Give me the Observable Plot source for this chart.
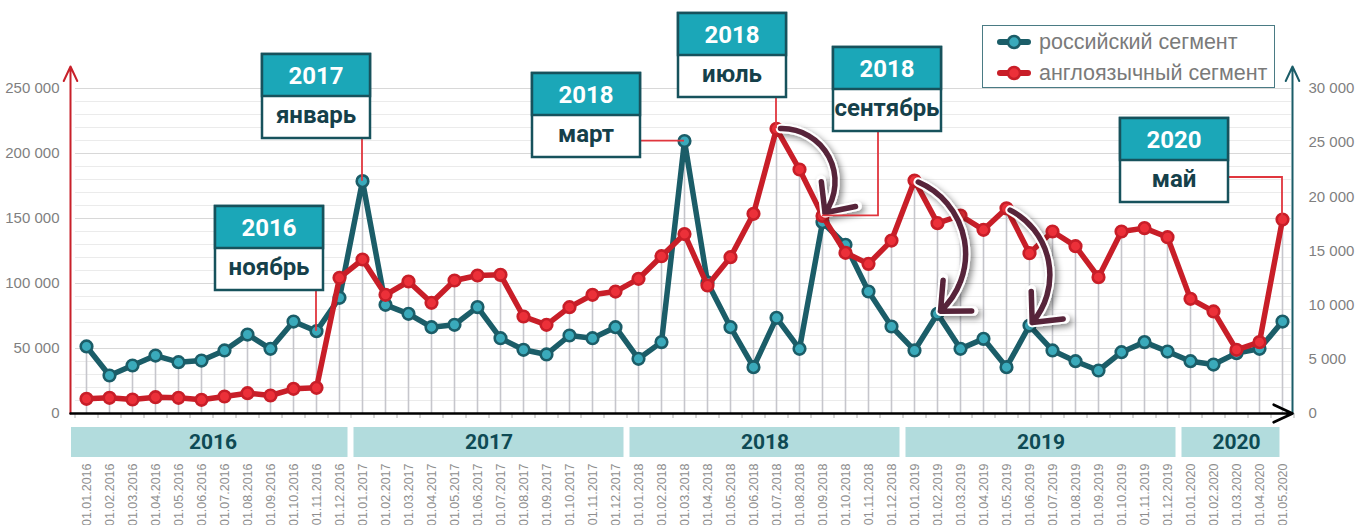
<!DOCTYPE html>
<html><head><meta charset="utf-8">
<script src="https://cdn.jsdelivr.net/npm/d3@7"></script>
<script src="https://cdn.jsdelivr.net/npm/@observablehq/plot@0.6"></script>
<style>
body{margin:0;background:#fff;}
#wrap{position:relative;width:1361px;height:525px;overflow:hidden;}
#legend{position:absolute;left:982px;top:25px;width:291px;height:61px;border:1.5px solid #4a7b84;background:#fff;font-family:"Liberation Sans",sans-serif;font-size:21.5px;color:#7a7a7a;}
#legend .it{position:absolute;left:14px;height:24px;display:flex;align-items:center;white-space:nowrap;}
#legend svg{margin-right:8px;}
</style></head>
<body><div id="wrap"><div id="legend"></div></div>
<script>
const dates = ["01.01.2016","01.02.2016","01.03.2016","01.04.2016","01.05.2016","01.06.2016","01.07.2016","01.08.2016","01.09.2016","01.10.2016","01.11.2016","01.12.2016",
"01.01.2017","01.02.2017","01.03.2017","01.04.2017","01.05.2017","01.06.2017","01.07.2017","01.08.2017","01.09.2017","01.10.2017","01.11.2017","01.12.2017",
"01.01.2018","01.02.2018","01.03.2018","01.04.2018","01.05.2018","01.06.2018","01.07.2018","01.08.2018","01.09.2018","01.10.2018","01.11.2018","01.12.2018",
"01.01.2019","01.02.2019","01.03.2019","01.04.2019","01.05.2019","01.06.2019","01.07.2019","01.08.2019","01.09.2019","01.10.2019","01.11.2019","01.12.2019",
"01.01.2020","01.02.2020","01.03.2020","01.04.2020","01.05.2020"];
// российский сегмент (right axis, 0–30 000)
const russian = [6190,3510,4430,5350,4740,4890,5820,7290,5970,8490,7600,10680,
21450,10030,9200,7970,8190,9820,6950,5880,5450,7200,6950,7970,
5050,6590,25150,12100,7970,4280,8830,5970,17660,15570,11260,8030,
5820,9200,5970,6890,4280,8120,5820,4830,3970,5660,6590,5720,
4830,4520,5570,5970,8490];
// англоязычный сегмент (left axis, 0–250 000)
const english = [11300,12050,10770,12560,12050,10510,13080,15640,13850,18970,19740,104360,
118460,91280,101540,85130,102300,106150,106650,74600,68200,81800,91300,93800,
103600,121000,138000,98460,120260,153600,219000,187700,152000,123600,115100,133000,
179200,146400,152300,141300,157800,123300,140000,128700,104900,140000,142600,135600,
88200,78500,49000,54900,149200];
const leftTicks = [0,50000,100000,150000,200000,250000];
const rightTicks = [0,5000,10000,15000,20000,25000,30000];
const years = ["2016","2017","2018","2019","2020"];
const yearFirst = [0,12,24,36,48];
const yearLast = [11,23,35,47,52];
const seriesNames = ["российский сегмент","англоязычный сегмент"];
const annotations = [
 {year:"2016", month:"ноябрь", i:10, s:"ru", left:215, top:206, link:"down"},
 {year:"2017", month:"январь", i:12, s:"ru", left:262, top:54, link:"down"},
 {year:"2018", month:"март", i:26, s:"ru", left:532, top:73, link:"right"},
 {year:"2018", month:"июль", i:30, s:"en", left:678, top:13, link:"down"},
 {year:"2018", month:"сентябрь", i:32, s:"en", left:833, top:47, link:"elbowDown", at:45},
 {year:"2020", month:"май", i:52, s:"en", left:1120, top:118, link:"elbowRight", at:59}
];
const curved = [{from:30, fs:"en", to:32, ts:"en", bend:68},{from:36, fs:"en", to:37, ts:"ru", bend:60},{from:40, fs:"en", to:41, ts:"ru", bend:55}];

const YMAX = 250000, RMAX = 30000, K = YMAX/RMAX;
const TEAL = "#1b5d68", TEAL_F = "#3aaabb", RED = "#c81e28", RED_F = "#ec3039";
const rows = dates.map((d,i)=>({i, date:d, ru:russian[i]*K, en:english[i]}));
const val = (i,s) => s==="ru" ? rows[i].ru : rows[i].en;
const PXH = 325; // plot height in px
const below = px => -px*YMAX/PXH;
const x0 = -16/23, x1 = 52 + 10/23;
const axisTop = 347*YMAX/PXH;
const grid = d3.range(10000, 250001, 10000);
const bounds = d3.range(-0.5, 53, 1);
const font = "'Liberation Sans', sans-serif";
const bandX1 = k => k===0 ? x0 - 2/23 : yearFirst[k]-0.5;
const bandX2 = k => k===years.length-1 ? yearLast[k] + 0.5 - 11/23 : yearLast[k]+0.5;

const curvedMarks = [];
for (const c of curved) {
  const o = {x1:"from", y1:d=>val(d.from,d.fs), x2:"to", y2:d=>val(d.to,d.ts), bend:c.bend, headAngle:85, insetStart:4, insetEnd:4};
  curvedMarks.push(Plot.arrow([c], {...o, stroke:"#ffffff", strokeWidth:9.5, headLength:5.2}));
  curvedMarks.push(Plot.arrow([c], {...o, stroke:"#57243a", strokeWidth:5.5, headLength:8.5}));
}

const plot = Plot.plot({
  width:1361, height:525, marginLeft:70, marginRight:69, marginTop:88, marginBottom:112,
  x:{domain:[x0,x1], axis:null}, y:{domain:[0,YMAX], axis:null},
  style:{overflow:"visible", background:"transparent", fontFamily:font},
  marks:[
    Plot.ruleY(grid, {y:d=>d, x1:-0.48, x2:x1-0.05, stroke:d=>d%50000===0?"#d8d8d8":"#ebebeb", strokeWidth:1.2}),
    Plot.ruleX(rows, {x:"i", y1:0, y2:d=>Math.max(d.ru,d.en), stroke:"#c6c6cc", strokeWidth:1.6}),
    Plot.ruleX(bounds, {x:d=>d, y1:0, y2:below(5), stroke:"#b0b0b0", strokeWidth:1}),
    Plot.line(rows, {x:"i", y:"ru", stroke:TEAL, strokeWidth:5.5, strokeLinejoin:"round"}),
    Plot.dot(rows, {x:"i", y:"ru", r:5.8, fill:TEAL_F, stroke:TEAL, strokeWidth:2.6}),
    Plot.line(rows, {x:"i", y:"en", stroke:RED, strokeWidth:5.5, strokeLinejoin:"round"}),
    Plot.dot(rows, {x:"i", y:"en", r:5.8, fill:RED_F, stroke:RED, strokeWidth:2.6}),
    // axes
    Plot.arrow([0], {x1:x0, y1:0, x2:x0, y2:axisTop, stroke:"#c8202a", strokeWidth:2, headLength:12, headAngle:50}),
    Plot.arrow([0], {x1:x1, y1:0, x2:x1, y2:axisTop, stroke:TEAL, strokeWidth:2, headLength:12, headAngle:50}),
    Plot.arrow([0], {x1:x0, y1:0, x2:x1, y2:0, stroke:"#000", strokeWidth:2.6, headLength:12, headAngle:50}),
    Plot.text(leftTicks, {x:x0, y:d=>d, text:d=>d===0?"0":d3.format(",")(d).replace(/,/g," "), textAnchor:"end", dx:-11, fontSize:15, fill:"#7f7f7f"}),
    Plot.text(rightTicks, {x:x1, y:d=>d*K, text:d=>d===0?"0":d3.format(",")(d).replace(/,/g," "), textAnchor:"start", dx:16, fontSize:15, fill:"#7f7f7f"}),
    // year bands
    Plot.rect(years, {x1:(d,k)=>bandX1(k), x2:(d,k)=>bandX2(k), y1:below(14), y2:below(44), insetLeft:3, insetRight:3, fill:"#b2dcdd"}),
    Plot.text(years, {x:(d,k)=>(yearFirst[k]+yearLast[k])/2, y:below(29), text:d=>d, fontSize:21, fontWeight:"bold", fill:"#0e4a54", fontFamily:"Roboto, sans-serif"}),
    Plot.text(rows, {x:"i", y:0, text:"date", rotate:-90, textAnchor:"end", dy:50, fontSize:12.5, fill:"#8e8e8e"}),
    ...curvedMarks
  ]
});
document.getElementById("wrap").prepend(plot);
const svg = d3.select(plot);
const sx = plot.scale("x"), sy = plot.scale("y");
// shadow for curved arrows
const defs = svg.append("defs");
const f = defs.append("filter").attr("id","sh").attr("x","-50%").attr("y","-50%").attr("width","200%").attr("height","200%");
f.append("feDropShadow").attr("dx",3).attr("dy",3).attr("stdDeviation",3).attr("flood-color","#000").attr("flood-opacity",0.45);
const arrowGroups = Array.from(plot.querySelectorAll('g[aria-label="arrow"]')).slice(3);
arrowGroups.forEach((g,k)=>{ if (k%2===0) g.setAttribute("filter","url(#sh)"); });

// annotations
const W=108, H=84, HH=42;
const ag = svg.append("g");
for (const a of annotations) {
  const px = sx.apply(a.i), py = sy.apply(val(a.i,a.s));
  let pts;
  if (a.link==="down") pts = [[px, a.top+H],[px, py]];
  else if (a.link==="right") pts = [[a.left+W, py],[px, py]];
  else if (a.link==="elbowDown") pts = [[a.left+a.at, a.top+H],[a.left+a.at, py],[px, py]];
  else pts = [[a.left+W, a.top+a.at],[px, a.top+a.at],[px, py]];
  ag.append("path").attr("d", d3.line()(pts)).attr("fill","none").attr("stroke","#e0363e").attr("stroke-width",1.8);
}
for (const a of annotations) {
  const g = ag.append("g").attr("transform",`translate(${a.left},${a.top})`);
  g.append("rect").attr("width",W).attr("height",H).attr("fill","#fff").attr("stroke","#17525c").attr("stroke-width",2.5);
  g.append("rect").attr("width",W).attr("height",HH).attr("fill","#1ba7b8").attr("stroke","#17525c").attr("stroke-width",2.5);
  g.append("text").attr("x",W/2).attr("y",HH/2+8.5).attr("text-anchor","middle").attr("fill","#fff")
   .attr("font-family","Roboto, sans-serif").attr("font-weight","bold").attr("font-size",24).text(a.year);
  g.append("text").attr("x",W/2).attr("y",HH+HH/2+6).attr("text-anchor","middle").attr("fill","#15404a")
   .attr("font-family","Roboto, sans-serif").attr("font-weight","bold").attr("font-size",24).text(a.month);
}
// legend
const lg = document.getElementById("legend");
[[TEAL,TEAL_F],[RED,RED_F]].forEach((c,k)=>{
  const it = document.createElement("div"); it.className="it"; it.style.top=(k===0?4:35)+"px";
  it.innerHTML = `<svg width="34" height="16"><line x1="3" y1="8" x2="31" y2="8" stroke="${c[0]}" stroke-width="6" stroke-linecap="round"/><circle cx="17" cy="8" r="6" fill="${c[1]}" stroke="${c[0]}" stroke-width="2.5"/></svg><span>${seriesNames[k]}</span>`;
  lg.appendChild(it);
});
</script></body></html>
